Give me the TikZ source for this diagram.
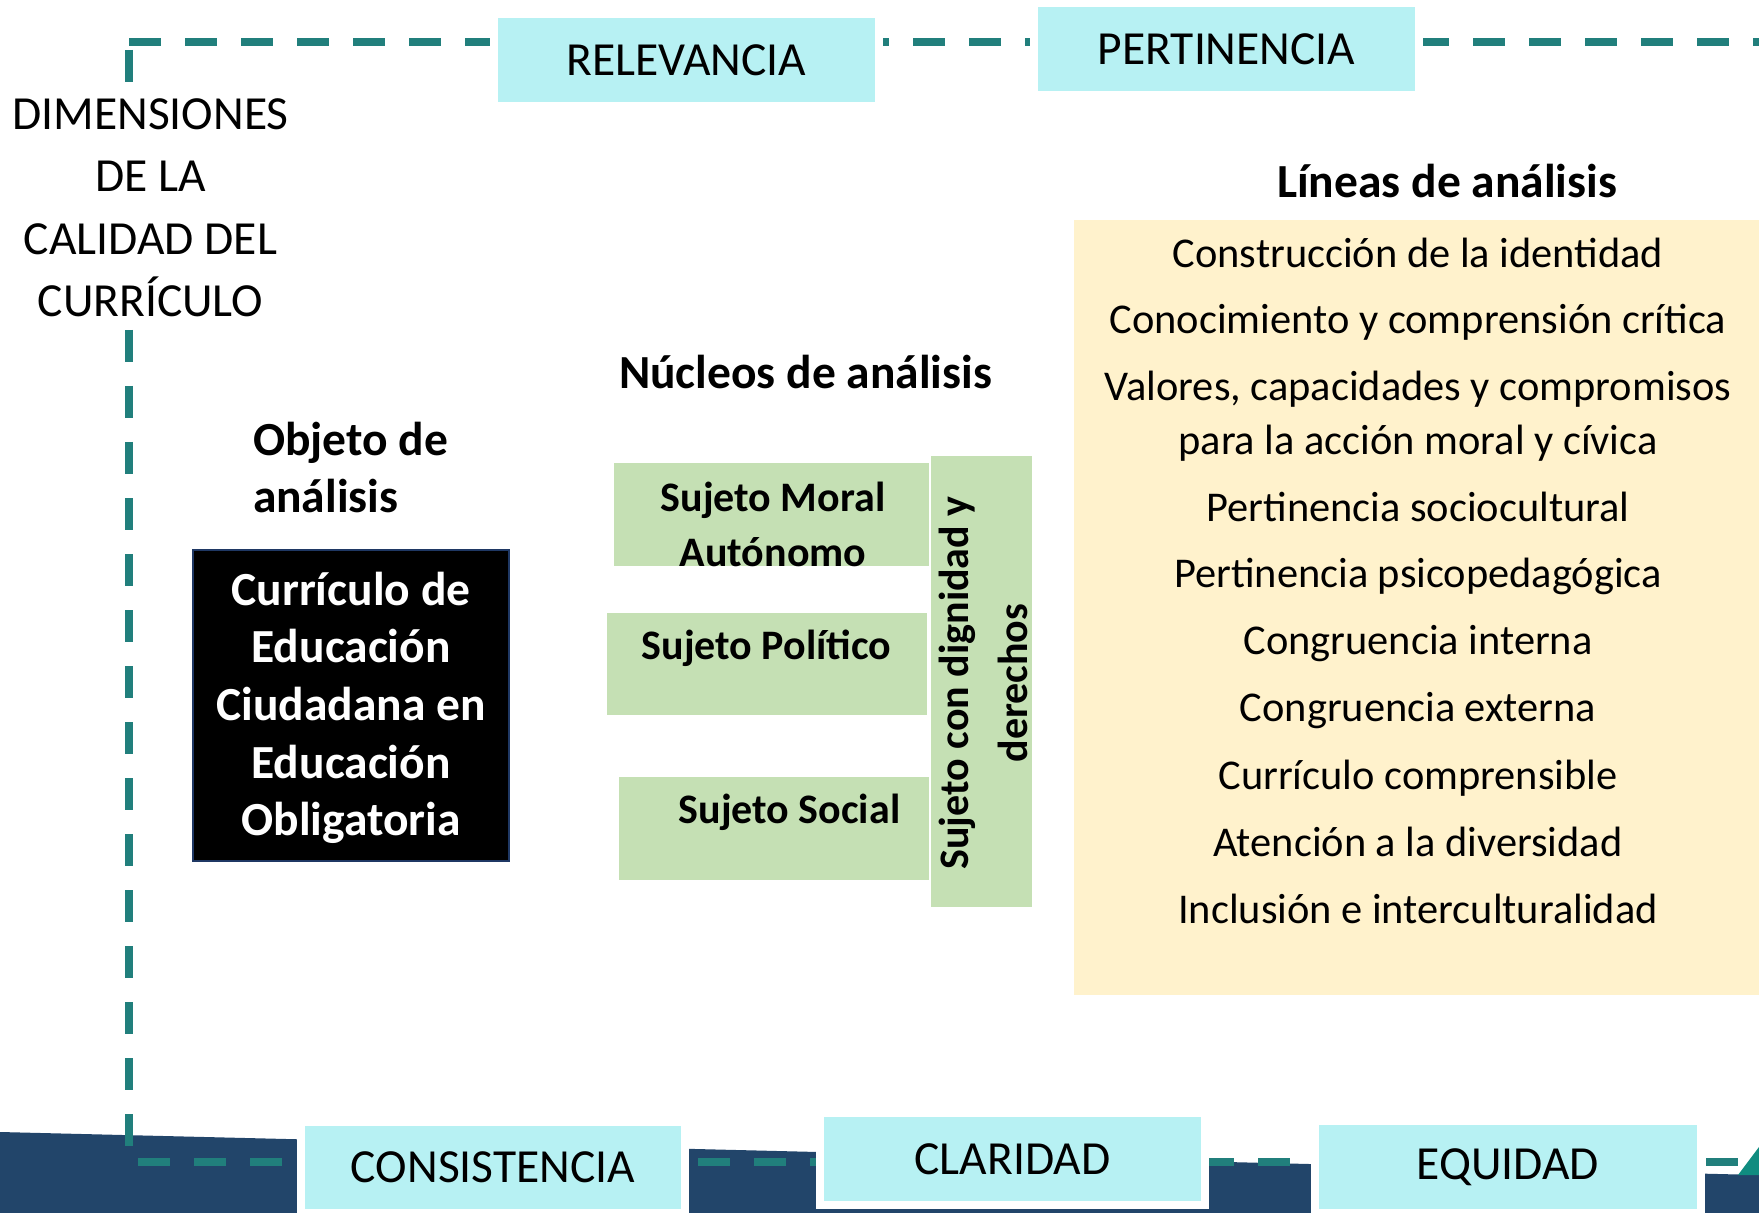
\documentclass[tikz,border=0pt]{standalone}
\usepackage{fontspec}
\setmainfont{Carlito}
\newcommand\myfA{\fontsize{23.75pt}{28.5pt}\selectfont}
\newcommand\myfB{\fontsize{21pt}{25pt}\selectfont\bfseries}
\newcommand\myfL{\fontsize{21.2pt}{27pt}\selectfont}
\definecolor{cyanc}{RGB}{183,241,243}
\definecolor{greenc}{RGB}{197,224,180}
\definecolor{yellowc}{RGB}{255,242,204}
\definecolor{navyc}{RGB}{34,69,106}
\definecolor{tealc}{RGB}{33,127,124}
\definecolor{tealtri}{RGB}{16,140,128}
\definecolor{blkborder}{RGB}{31,56,100}
\begin{document}
\begin{tikzpicture}[x=0.5pt,y=-0.5pt,
  dimbox/.style={fill=cyanc, draw=white, line width=4pt, inner sep=0pt, outer sep=0pt, font=\myfA},
  greenbox/.style={fill=greenc, inner sep=0pt, outer sep=0pt},
  txt/.style={inner sep=0pt, outer sep=0pt, anchor=base},
  hdr/.style={txt, font=\myfA\bfseries},
  plain/.style={txt, font=\myfA},
  gtxt/.style={txt, font=\myfB},
  ltxt/.style={txt, font=\myfL},
  wtxt/.style={txt, font=\myfA\bfseries, text=white},
  frame/.style={draw=tealc, line width=4pt, dash pattern=on 16pt off 12pt}
]
\useasboundingbox (0,0) rectangle (1759,1213);
\fill[white] (0,0) rectangle (1759,1213);

% bottom band
\fill[navyc] (0,1132) -- (1759,1175) -- (1759,1213) -- (0,1213) -- cycle;
\fill[tealtri] (1738,1175) -- (1759,1147) -- (1759,1175) -- cycle;

% dashed frame
\draw[frame] (129,42.5) -- (1759,42.5);
\draw[frame] (129,50) -- (129,82);
\draw[frame] (129,330) -- (129,1146);
\draw[frame] (138,1162) -- (1759,1162);

% dimension boxes
\node[dimbox, minimum width=192.5pt, minimum height=46pt] (rel) at (686.5,60) {RELEVANCIA};
\node[dimbox, minimum width=192.5pt, minimum height=46pt] (per) at (1226.5,49) {PERTINENCIA};
\node[dimbox, minimum width=192pt, minimum height=45.5pt] (con) at (493,1167.5) {CONSISTENCIA};
\node[dimbox, minimum width=192.5pt, minimum height=46pt] (cla) at (1012.5,1159) {CLARIDAD};
\node[dimbox, minimum width=193pt, minimum height=46pt] (equ) at (1508,1167) {EQUIDAD};

% left title
\node[plain] (d1) at (150.5,130) {DIMENSIONES};
\node[plain] (d2) at (150.5,192) {DE LA};
\node[plain] (d3) at (150.5,255) {CALIDAD DEL};
\node[plain] (d4) at (150.5,317) {CURRÍCULO};

% objeto de analisis
\node[hdr, anchor=base west] (o1) at (253,456) {Objeto de};
\node[hdr, anchor=base west] (o2) at (253,512) {análisis};
\node[fill=black, draw=blkborder, line width=1pt, minimum width=158pt, minimum height=155.5pt, inner sep=0pt] (obj) at (351,705.5) {};
\node[wtxt] (b1) at (351,605) {Currículo de};
\node[wtxt] (b2) at (351,662) {Educación};
\node[wtxt] (b3) at (351,720) {Ciudadana en};
\node[wtxt] (b4) at (351,778) {Educación};
\node[wtxt] (b5) at (351,835) {Obligatoria};

% nucleos
\node[hdr] (nuc) at (805.5,389) {Núcleos de análisis};
\node[greenbox, minimum width=157.5pt, minimum height=51.5pt] (smbox) at (771.5,514.5) {};
\node[greenbox, minimum width=160pt, minimum height=51pt] (spbox) at (767,664) {};
\node[greenbox, minimum width=155pt, minimum height=51.5pt] (ssbox) at (774,828.5) {};
\node[greenbox, minimum width=50.5pt, minimum height=225.5pt] (vbox) at (981.5,681.5) {};
\node[gtxt] (sm1) at (773,511) {Sujeto Moral};
\node[gtxt] (sm2) at (773,566) {Autónomo};
\node[gtxt] (sp) at (766.5,659) {Sujeto Político};
\node[gtxt] (ss) at (789.5,823) {Sujeto Social};
\node[gtxt, rotate=90] (v1) at (968,683) {Sujeto con dignidad y};
\node[gtxt, rotate=90] (v2) at (1027,683) {derechos};

% lineas
\node[hdr] (lin) at (1447,198) {Líneas de análisis};
\node[fill=yellowc, inner sep=0pt, minimum width=342.5pt, minimum height=387.5pt] (ybox) at (1416.5,607.5) {};
\node[ltxt] (l1) at (1418,268) {Construcción de la identidad};
\node[ltxt] (l2) at (1418,334) {Conocimiento y comprensión crítica};
\node[ltxt] (l3) at (1418,400.5) {Valores, capacidades y compromisos};
\node[ltxt] (l3b) at (1418,454.5) {para la acción moral y cívica};
\node[ltxt] (l4) at (1418,521) {Pertinencia sociocultural};
\node[ltxt] (l5) at (1418,587.5) {Pertinencia psicopedagógica};
\node[ltxt] (l6) at (1418,654) {Congruencia interna};
\node[ltxt] (l7) at (1418,721.5) {Congruencia externa};
\node[ltxt] (l8) at (1418,789) {Currículo comprensible};
\node[ltxt] (l9) at (1418,856.5) {Atención a la diversidad};
\node[ltxt] (l10) at (1418,923.5) {Inclusión e interculturalidad};
\end{tikzpicture}
\end{document}
